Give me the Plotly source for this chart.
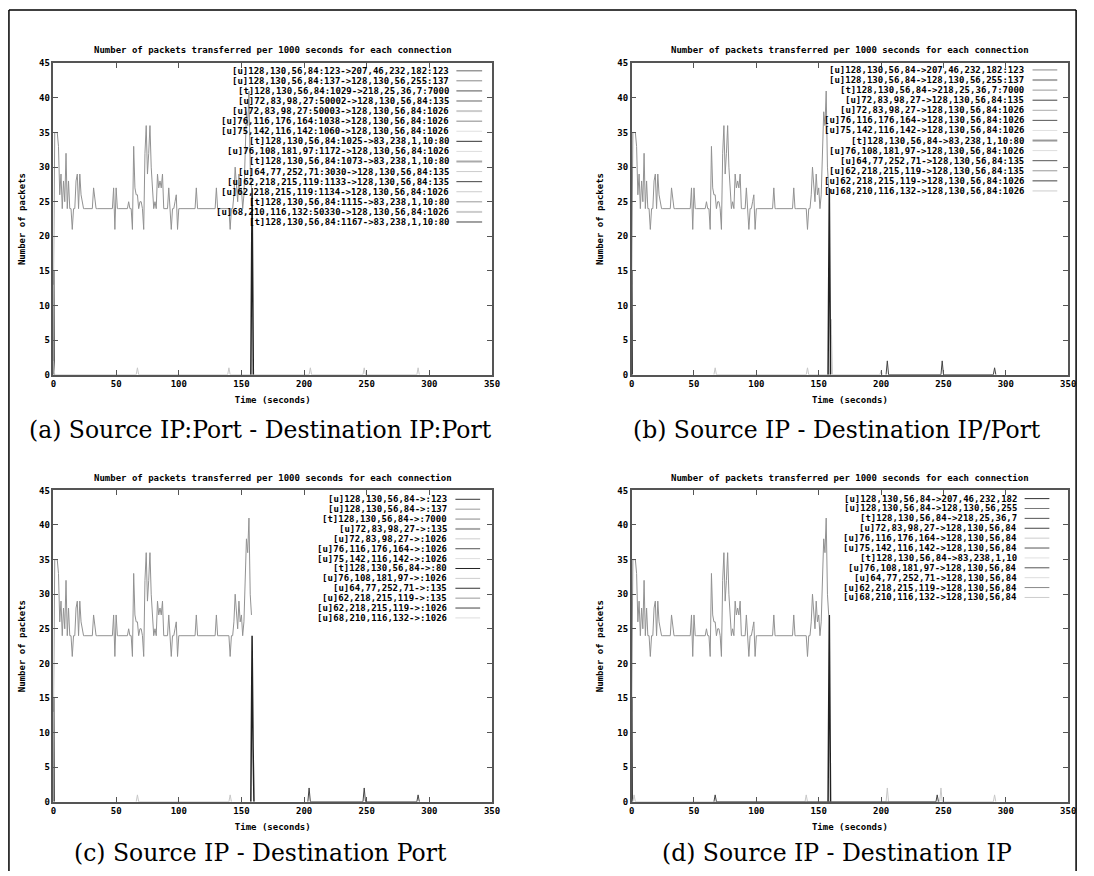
import plotly.graph_objects as go

W, H = 1094, 876

# ---------------- data ----------------
main_t = list(range(0, 159))
main_v = [
    13, 35, 35, 35, 33, 26, 29, 24, 28, 25,
    32, 24, 28, 24, 24, 21, 24, 24, 28, 29,
    24, 29, 26, 25, 24, 24, 24, 24, 24, 24,
    24, 24, 27, 25, 24, 24, 24, 24, 24, 24,
    24, 24, 24, 24, 24, 24, 24, 24, 27, 21,
    27, 24, 24, 24, 24, 24, 24, 24, 24, 24,
    25, 24, 24, 21, 33, 27, 26, 26, 24, 25,
    25, 24, 21, 32, 36, 29, 32, 36, 30, 27,
    24, 25, 24, 29, 27, 28, 27, 29, 24, 24,
    24, 24, 27, 24, 21, 24, 24, 25, 26, 21,
    24, 24, 24, 24, 24, 24, 24, 24, 24, 24,
    24, 24, 24, 24, 27, 24, 24, 24, 24, 24,
    24, 24, 24, 24, 24, 24, 24, 24, 24, 24,
    27, 24, 24, 24, 24, 24, 24, 24, 24, 24,
    24, 21, 24, 24, 26, 30, 28, 25, 29, 26,
    27, 24, 26, 31, 38, 36, 41, 30, 27,
]

start_t = [0, 0.3, 0.6]
start_v = [0, 15, 0]

drop_t = {"a": [157.5, 158.5, 159.5], "b": [157.5, 158.5, 159.5],
          "c": [157.5, 158.5, 159.3, 160.0], "d": [157.5, 158.5, 159.5]}
drop_v = {"a": [0, 27, 0], "b": [0, 27, 0], "c": [0, 24, 8, 0], "d": [0, 27, 0]}

light_t = {"a": [0, 1, 66, 67, 68, 139, 140, 141, 204, 205, 206, 247, 248, 249, 290, 291, 292],
           "b": [66, 67, 68, 140, 141, 142, 159, 160, 161, 199, 200, 201],
           "c": [66, 67, 68, 140, 141, 142],
           "d": [1, 2, 3, 139, 140, 141, 204, 205, 206, 247, 248, 249, 290, 291, 292]}
light_v = {"a": [2, 0, 0, 1, 0, 0, 1, 0, 0, 1, 0, 0, 1, 0, 0, 1, 0],
           "b": [0, 1, 0, 0, 1, 0, 0, 8, 0, 0, 0.6, 0],
           "c": [0, 1, 0, 0, 1, 0],
           "d": [0, 1, 0, 0, 1, 0, 0, 2, 0, 0, 2, 0, 0, 1, 0]}

dark_t = {"a": [], "b": [204, 205, 206, 248, 249, 250, 290, 291, 292],
          "c": [203, 204, 205, 247, 248, 249, 290, 291, 292],
          "d": [66, 67, 68, 244, 245, 246]}
dark_v = {"a": [], "b": [0, 2, 0, 0, 2, 0, 0, 1, 0],
          "c": [0, 2, 0, 0, 2, 0, 0, 1, 0],
          "d": [0, 1, 0, 0, 1, 0]}

names = {
    "a": [
        "[u]128,130,56,84:123->207,46,232,182:123",
        "[u]128,130,56,84:137->128,130,56,255:137",
        "[t]128,130,56,84:1029->218,25,36,7:7000",
        "[u]72,83,98,27:50002->128,130,56,84:135",
        "[u]72,83,98,27:50003->128,130,56,84:1026",
        "[u]76,116,176,164:1038->128,130,56,84:1026",
        "[u]75,142,116,142:1060->128,130,56,84:1026",
        "[t]128,130,56,84:1025->83,238,1,10:80",
        "[u]76,108,181,97:1172->128,130,56,84:1026",
        "[t]128,130,56,84:1073->83,238,1,10:80",
        "[u]64,77,252,71:3030->128,130,56,84:135",
        "[u]62,218,215,119:1133->128,130,56,84:135",
        "[u]62,218,215,119:1134->128,130,56,84:1026",
        "[t]128,130,56,84:1115->83,238,1,10:80",
        "[u]68,210,116,132:50330->128,130,56,84:1026",
        "[t]128,130,56,84:1167->83,238,1,10:80",
    ],
    "b": [
        "[u]128,130,56,84->207,46,232,182:123",
        "[u]128,130,56,84->128,130,56,255:137",
        "[t]128,130,56,84->218,25,36,7:7000",
        "[u]72,83,98,27->128,130,56,84:135",
        "[u]72,83,98,27->128,130,56,84:1026",
        "[u]76,116,176,164->128,130,56,84:1026",
        "[u]75,142,116,142->128,130,56,84:1026",
        "[t]128,130,56,84->83,238,1,10:80",
        "[u]76,108,181,97->128,130,56,84:1026",
        "[u]64,77,252,71->128,130,56,84:135",
        "[u]62,218,215,119->128,130,56,84:135",
        "[u]62,218,215,119->128,130,56,84:1026",
        "[u]68,210,116,132->128,130,56,84:1026",
    ],
    "c": [
        "[u]128,130,56,84->:123",
        "[u]128,130,56,84->:137",
        "[t]128,130,56,84->:7000",
        "[u]72,83,98,27->:135",
        "[u]72,83,98,27->:1026",
        "[u]76,116,176,164->:1026",
        "[u]75,142,116,142->:1026",
        "[t]128,130,56,84->:80",
        "[u]76,108,181,97->:1026",
        "[u]64,77,252,71->:135",
        "[u]62,218,215,119->:135",
        "[u]62,218,215,119->:1026",
        "[u]68,210,116,132->:1026",
    ],
    "d": [
        "[u]128,130,56,84->207,46,232,182",
        "[u]128,130,56,84->128,130,56,255",
        "[t]128,130,56,84->218,25,36,7",
        "[u]72,83,98,27->128,130,56,84",
        "[u]76,116,176,164->128,130,56,84",
        "[u]75,142,116,142->128,130,56,84",
        "[t]128,130,56,84->83,238,1,10",
        "[u]76,108,181,97->128,130,56,84",
        "[u]64,77,252,71->128,130,56,84",
        "[u]62,218,215,119->128,130,56,84",
        "[u]68,210,116,132->128,130,56,84",
    ],
}

captions = {
    "a": "(a) Source IP:Port - Destination IP:Port",
    "b": "(b) Source IP - Destination IP/Port",
    "c": "(c) Source IP - Destination Port",
    "d": "(d) Source IP - Destination IP",
}
title_text = "Number of packets transferred per 1000 seconds for each connection"
x_ticks = [0, 50, 100, 150, 200, 250, 300, 350]
y_ticks = [0, 5, 10, 15, 20, 25, 30, 35, 40, 45]

# ---------------- styles ----------------
key_colors = {
    "a": ["#999", "#888", "#555", "#666", "#ccc", "#888", "#e0e0e0", "#333",
          "#ddd", "#aaa", "#ccc", "#444", "#ccc", "#999", "#ccc", "#444"],
    "b": ["#888", "#aaa", "#999", "#444", "#aaa", "#555", "#e0e0e0", "#999",
          "#ddd", "#555", "#999", "#444", "#ccc"],
    "c": ["#333", "#999", "#888", "#aaa", "#ccc", "#555", "#ddd", "#222",
          "#ccc", "#333", "#999", "#444", "#ddd"],
    "d": ["#333", "#777", "#555", "#444", "#ccc", "#555", "#e0e0e0", "#555",
          "#ddd", "#888", "#ccc"],
}
key_widths = {
    "a": [1.5, 1, 1, 1, 2, 1, 1, 1, 1, 2, 1, 1, 1, 1, 2, 1],
    "b": [1, 2, 1, 1, 1, 1, 1, 2, 1, 1, 1, 1, 1],
    "c": [1, 1, 1, 2, 1, 1, 1, 1, 1, 1, 1, 1, 1],
    "d": [1, 1, 1, 1, 1, 1, 1, 1, 1, 1, 1],
}

# panel geometry in pixels: x0, x1, ytop, ybottom
panels = {
    "a": (51, 494, 59, 374),
    "b": (635, 1076, 59, 374),
    "c": (51, 494, 491, 806),
    "d": (635, 1076, 491, 806),
}
# legend geometry: first row y, row step, text right edge, sample x0, x1
keys = {
    "a": (66.5, 10.2, 453, 458, 484),
    "b": (65.7, 10.2, 1033, 1040, 1065),
    "c": (500, 10.0, 451, 457, 482),
    "d": (499.3, 10.0, 1026, 1032, 1057),
}
caption_pos = {"a": (260, 430), "b": (842, 430), "c": (260, 858), "d": (842, 858)}

mono = dict(family="DejaVu Sans Mono", size=9, color="black", weight="bold")
serif = dict(family="DejaVu Serif", size=23.5, color="black")

def px(x):
    return x / W

def py(y):
    return 1 - y / H

fig = go.Figure()
annotations = []
shapes = []

for i, p in enumerate(["a", "b", "c", "d"]):
    n = "" if i == 0 else str(i + 1)
    xa, ya = "x" + n, "y" + n
    x0, x1, yt, yb = panels[p]

    fig.add_trace(go.Scatter(x=main_t, y=main_v, mode="lines", xaxis=xa, yaxis=ya,
                             line=dict(color="#929292", width=1), showlegend=False,
                             name=names[p][0]))
    fig.add_trace(go.Scatter(x=start_t, y=start_v, mode="lines", xaxis=xa, yaxis=ya,
                             line=dict(color="#333", width=1.2), showlegend=False,
                             name=names[p][2]))
    fig.add_trace(go.Scatter(x=light_t[p], y=light_v[p], mode="lines", xaxis=xa, yaxis=ya,
                             line=dict(color="#c8c8c8", width=1), showlegend=False,
                             name=names[p][4]))
    if dark_t[p]:
        fig.add_trace(go.Scatter(x=dark_t[p], y=dark_v[p], mode="lines", xaxis=xa, yaxis=ya,
                                 line=dict(color="#444", width=1), showlegend=False,
                                 name=names[p][-2]))
    fig.add_trace(go.Scatter(x=drop_t[p], y=drop_v[p], mode="lines", xaxis=xa, yaxis=ya,
                             line=dict(color="#222", width=1.5), showlegend=False,
                             name=names[p][7]))

    axis_common = dict(showline=True, mirror="ticks", linecolor="#555", linewidth=1.5,
                       ticks="inside", ticklen=5, tickcolor="#555", tickwidth=1,
                       showgrid=False, zeroline=False, tickfont=mono, fixedrange=True)
    fig.layout["xaxis" + n] = dict(
        domain=[px(x0), px(x1)], range=[0, 350], anchor=ya, tickvals=x_ticks,
        title=dict(text="Time (seconds)", font=mono, standoff=8), **axis_common)
    fig.layout["yaxis" + n] = dict(
        domain=[py(yb), py(yt)], range=[0, 45], anchor=xa, tickvals=y_ticks,
        title=dict(text="Number of packets", font=mono, standoff=12), **axis_common)

    # plot title
    annotations.append(dict(text=title_text, x=px((x0 + x1) / 2), y=py(yt - 13),
                            xref="paper", yref="paper", showarrow=False, font=mono,
                            xanchor="center", yanchor="middle"))
    # key
    ky, kstep, ktx, ks0, ks1 = keys[p]
    for j, nm in enumerate(names[p]):
        yy = ky + j * kstep
        annotations.append(dict(text=nm, x=px(ktx), y=py(yy), xref="paper", yref="paper",
                                showarrow=False, font=mono, xanchor="right", yanchor="middle"))
        shapes.append(dict(type="line", xref="paper", yref="paper",
                           x0=px(ks0), x1=px(ks1), y0=py(yy), y1=py(yy),
                           line=dict(color=key_colors[p][j], width=key_widths[p][j])))
    # caption
    cx, cy = caption_pos[p]
    annotations.append(dict(text=captions[p], x=px(cx), y=py(cy), xref="paper", yref="paper",
                            showarrow=False, font=serif, xanchor="center", yanchor="middle"))

# outer frame
frame = dict(color="black", width=1.5)
shapes.append(dict(type="line", xref="paper", yref="paper", x0=px(6), x1=px(6), y0=py(5), y1=0, line=frame))
shapes.append(dict(type="line", xref="paper", yref="paper", x0=px(6), x1=px(1084), y0=py(5), y1=py(5), line=frame))
shapes.append(dict(type="line", xref="paper", yref="paper", x0=px(1084), x1=px(1084), y0=py(5), y1=0, line=frame))

fig.update_layout(width=W, height=H, margin=dict(l=0, r=0, t=0, b=0),
                  paper_bgcolor="white", plot_bgcolor="white",
                  annotations=annotations, shapes=shapes, showlegend=False)

fig.write_html("out.html")
